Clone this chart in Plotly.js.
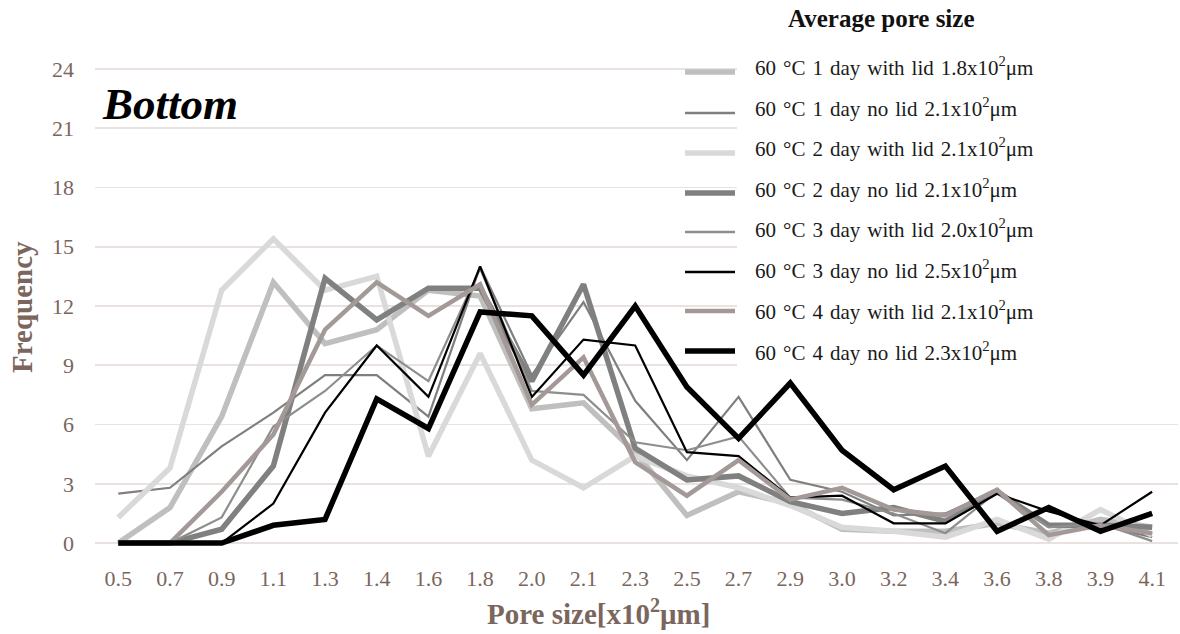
<!DOCTYPE html>
<html>
<head>
<meta charset="utf-8">
<script src="https://cdn.plot.ly/plotly-3.0.1.min.js"></script>
<style>
  html, body { margin: 0; padding: 0; background: #ffffff; }
  #chart { width: 1180px; height: 634px; }
</style>
</head>
<body>
<div id="chart"></div>
<script>
// Pore size bins (x10^2 μm)
const poreSizes = ['0.5','0.7','0.9','1.1','1.3','1.4','1.6','1.8','2.0','2.1','2.3',
                   '2.5','2.7','2.9','3.0','3.2','3.4','3.6','3.8','3.9','4.1'];

// Frequency per bin for each drying condition
const day1WithLid = [0, 1.8, 6.4, 13.2, 10.1, 10.8, 12.8, 12.5, 6.8, 7.1, 4.6, 1.4, 2.6, 2.0, 0.7, 0.6, 0.6, 1.0, 0.5, 1.2, 0.8];
const day1NoLid   = [2.5, 2.8, 4.9, 6.6, 8.5, 8.5, 6.4, 14.0, 8.5, 12.2, 7.2, 4.2, 7.4, 3.2, 2.6, 1.4, 1.5, 2.7, 0.9, 0.9, 0.3];
const day2WithLid = [1.3, 3.8, 12.8, 15.4, 12.8, 13.5, 4.4, 9.6, 4.2, 2.8, 4.4, 3.4, 2.8, 1.9, 0.8, 0.6, 0.3, 1.2, 0.2, 1.7, 0.4];
const day2NoLid   = [0, 0, 0.7, 3.9, 13.4, 11.3, 12.9, 12.9, 8.2, 13.1, 4.8, 3.2, 3.4, 2.1, 1.5, 1.8, 1.1, 2.6, 0.9, 0.9, 0.8];
const day3WithLid = [0, 0, 1.3, 5.9, 7.7, 10.0, 8.2, 13.9, 7.7, 7.5, 5.1, 4.7, 5.4, 2.3, 2.2, 1.5, 0.5, 2.6, 0.8, 1.0, 0.1];
const day3NoLid   = [0, 0, 0, 2.0, 6.6, 10.0, 7.4, 14.0, 7.4, 10.3, 10.0, 4.6, 4.4, 2.3, 2.4, 1.0, 1.0, 2.5, 1.6, 0.9, 2.6];
const day4WithLid = [0, 0, 2.6, 5.5, 10.8, 13.2, 11.5, 13.1, 7.0, 9.4, 4.1, 2.4, 4.2, 2.2, 2.8, 1.7, 1.4, 2.7, 0.4, 0.9, 0.5];
const day4NoLid   = [0, 0, 0, 0.9, 1.2, 7.3, 5.8, 11.7, 11.5, 8.5, 12.0, 7.9, 5.3, 8.1, 4.7, 2.7, 3.9, 0.6, 1.8, 0.6, 1.5];

// Legend labels (condition + average pore size)
const seriesNames = [
  '60 °C 1 day with lid 1.8x10<sup>2</sup>μm',
  '60 °C 1 day no lid 2.1x10<sup>2</sup>μm',
  '60 °C 2 day with lid 2.1x10<sup>2</sup>μm',
  '60 °C 2 day no lid 2.1x10<sup>2</sup>μm',
  '60 °C 3 day with lid 2.0x10<sup>2</sup>μm',
  '60 °C 3 day no lid 2.5x10<sup>2</sup>μm',
  '60 °C 4 day with lid 2.1x10<sup>2</sup>μm',
  '60 °C 4 day no lid 2.3x10<sup>2</sup>μm'
];
const yTicks = [0, 3, 6, 9, 12, 15, 18, 21, 24];

const seriesData = [day1WithLid, day1NoLid, day2WithLid, day2NoLid,
                    day3WithLid, day3NoLid, day4WithLid, day4NoLid];
const styles = [
  { color: '#bfbfbf', width: 5.5 },
  { color: '#7f7f7f', width: 2.2 },
  { color: '#d9d9d9', width: 5.5 },
  { color: '#808080', width: 5.5 },
  { color: '#8e8e8e', width: 2.2 },
  { color: '#000000', width: 2.2 },
  { color: '#a39a98', width: 4.5 },
  { color: '#000000', width: 5.5 }
];

const serif = 'Liberation Serif, Times New Roman, serif';
const brown = '#7a665c';

// Plot area geometry (pixels)
const W = 1180, H = 634;
const M = { l: 95, r: 2, t: 61, b: 83 };
const plotW = W - M.l - M.r, plotH = H - M.t - M.b;
const px = x => (x - M.l) / plotW;
const py = y => (H - M.b - y) / plotH;

// Slightly wider word gaps in the legend entries
const spaced = s => s.split(' ').join(' \u200A');

const traces = seriesData.map((vals, i) => ({
  type: 'scatter',
  mode: 'lines',
  x: poreSizes,
  y: vals,
  name: seriesNames[i],
  line: { color: styles[i].color, width: styles[i].width, shape: 'linear' },
  showlegend: false,
  hoverinfo: 'skip'
}));

// Hand-built legend on the upper right, on a white panel over the grid
const sampleY = [72, 113, 153, 193, 232, 272, 311, 351];
const textY   = [66, 107, 147, 188, 228, 269, 310, 351];
const shapes = [{
  type: 'rect', xref: 'paper', yref: 'paper', layer: 'above',
  x0: px(737), x1: px(1182), y0: py(-2), y1: py(372),
  fillcolor: '#ffffff', line: { width: 0 }
}];
const annotations = [];
seriesNames.forEach((name, i) => {
  shapes.push({
    type: 'line', xref: 'paper', yref: 'paper', layer: 'above',
    x0: px(685), x1: px(735), y0: py(sampleY[i]), y1: py(sampleY[i]),
    line: { color: styles[i].color, width: Math.max(styles[i].width, 2.6) }
  });
  annotations.push({
    xref: 'paper', yref: 'paper', x: px(753), y: py(textY[i]),
    xanchor: 'left', yanchor: 'middle', showarrow: false,
    text: spaced(name), font: { family: serif, size: 21, color: '#1a1a1a' }
  });
});
annotations.push({
  xref: 'paper', yref: 'paper', x: px(881), y: py(18),
  xanchor: 'center', yanchor: 'middle', showarrow: false,
  text: '<b>Average pore size</b>', font: { family: serif, size: 25, color: '#111111' }
});
annotations.push({
  xref: 'paper', yref: 'paper', x: px(100), y: py(104),
  xanchor: 'left', yanchor: 'middle', showarrow: false,
  text: '<b><i>Bottom</i></b>', font: { family: serif, size: 45, color: '#000000' }
});
annotations.push({
  xref: 'paper', yref: 'paper', x: px(22), y: py(307),
  xanchor: 'center', yanchor: 'middle', showarrow: false, textangle: -90,
  text: '<b>Frequency</b>', font: { family: serif, size: 29, color: brown }
});
annotations.push({
  xref: 'paper', yref: 'paper', x: px(598), y: py(612),
  xanchor: 'center', yanchor: 'middle', showarrow: false,
  text: '<b>Pore size[x10<sup>2</sup>μm]</b>', font: { family: serif, size: 29, color: brown }
});

const layout = {
  width: W, height: H,
  margin: M,
  paper_bgcolor: '#ffffff', plot_bgcolor: '#ffffff',
  showlegend: false,
  xaxis: {
    type: 'category',
    categoryorder: 'array', categoryarray: poreSizes,
    range: [-0.45, 20.5],
    showgrid: false, zeroline: false, showline: false,
    ticks: '', ticklabelstandoff: 12,
    tickfont: { family: serif, size: 22, color: brown },
    fixedrange: true
  },
  yaxis: {
    range: [-0.4, 24.4],
    tickvals: yTicks, ticktext: yTicks.map(String),
    showgrid: true, gridcolor: '#e9e2de', gridwidth: 1.6,
    zeroline: false, showline: false,
    ticks: '', ticklabelstandoff: 20,
    tickfont: { family: serif, size: 22, color: brown },
    fixedrange: true
  },
  shapes: shapes,
  annotations: annotations
};

Plotly.newPlot('chart', traces, layout, { staticPlot: true, displayModeBar: false });
</script>
</body>
</html>
